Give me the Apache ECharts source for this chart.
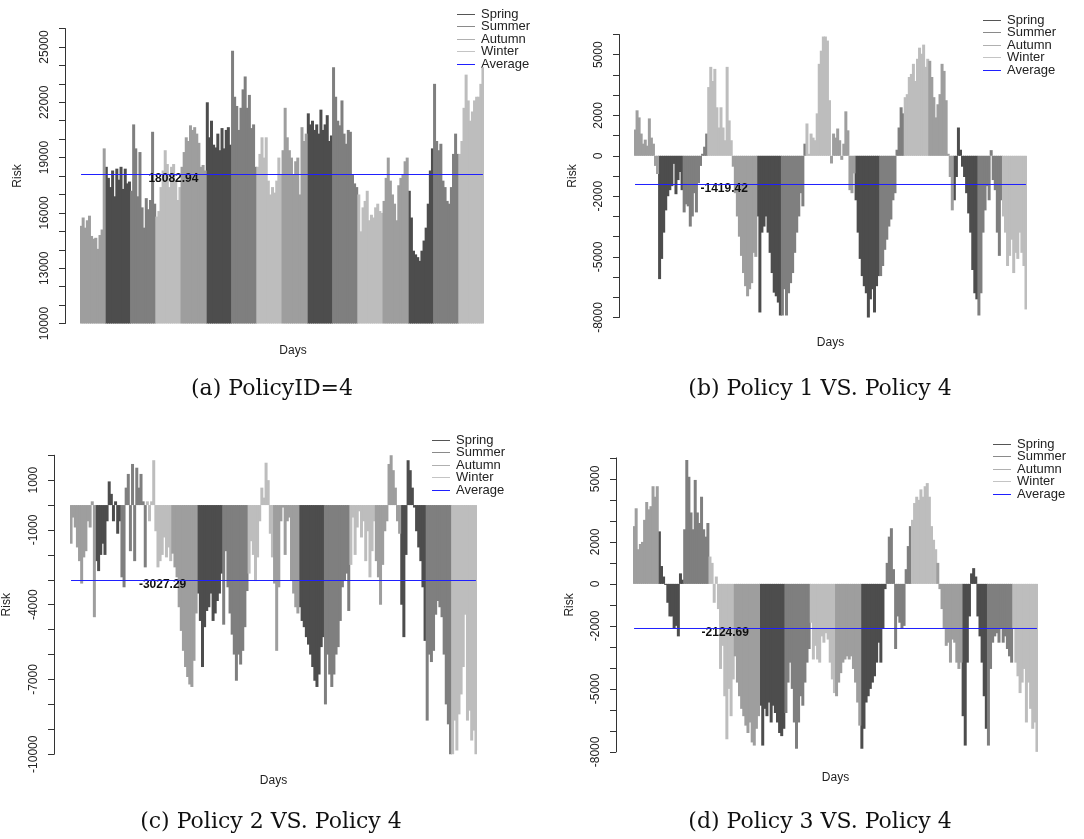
<!DOCTYPE html>
<html>
<head>
<meta charset="utf-8">
<script src="https://cdn.jsdelivr.net/npm/echarts@6/dist/echarts.min.js"></script>
<style>
html, body { margin: 0; background: #fff; }
#chart { width: 1084px; height: 839px; }
</style>
</head>
<body>
<div id="chart"></div>
<script>
// daily risk, 12 samples per season, seasons run Winter, Spring, Summer, Autumn for 4 years
var riskA = [
  15300, 15750, 15200, 15600, 15850, 14750, 14600, 14650, 14050, 14800, 15100, 19500,
  18500, 17900, 17400, 18300, 16900, 18400, 17800, 18500, 17300, 18400, 17600, 17700,
  17200, 20800, 19500, 16900, 19300, 16300, 15200, 16800, 16200, 16700, 20400, 16500,
  15800, 16100, 17400, 18300, 19400, 18650, 17400, 18500, 18650, 17750, 16700, 17400,
  18500, 19300, 20100, 19900, 20750, 20500, 20650, 20300, 19800, 18500, 18600, 18300,
  22000, 20100, 21000, 19700, 19550, 20300, 19400, 20600, 19500, 20500, 20650, 19700,
  24800, 22300, 21800, 20500, 21700, 22700, 23400, 21700, 22400, 20600, 20800, 18500,
  18500, 19200, 20100, 19000, 20100, 17750, 17000, 17400, 17100, 17750, 19000, 18100,
  19400, 21700, 20100, 19400, 19000, 18100, 18800, 19000, 17000, 20650, 19900, 20300,
  21400, 20800, 21000, 20500, 20800, 20300, 21600, 20500, 20800, 21300, 19900, 20200,
  23900, 22300, 21000, 20750, 22100, 20300, 19750, 20500, 20400, 18100, 17600, 17400,
  17000, 15000, 16300, 16650, 17200, 15600, 15900, 15750, 16300, 16500, 16100, 16000,
  16650, 17900, 19000, 17750, 17000, 16500, 15600, 17500, 17900, 18100, 18800, 19000,
  17200, 15750, 13950, 13750, 13600, 13400, 13950, 14500, 15200, 16500, 18300, 19500,
  23000, 19900, 19400, 19750, 17750, 17400, 16650, 16500, 17400, 19200, 20300, 19200,
  19200, 19900, 21700, 23500, 22100, 21000, 21500, 22100, 22300, 22300, 23000, 23900
];
var riskB = [
  1300, 2250, 1900, 1100, 600, 800, 500, 1850, 900, 600, -500, -900,
  -6100, -5100, -3800, -2700, -2000, -1700, -1500, -400, -1900, -1200, -800, -1700,
  -2800, -2400, -2500, -3500, -3000, -1850, -2800, -1350, -500, 100, 450, 1100,
  3400, 4400, 3700, 4300, 2400, 1400, 2400, 1400, 770, 4400, 1750, 770,
  -540, -1850, -3000, -4000, -4950, -5800, -6450, -6950, -6600, -6300, -4800, -5000,
  -3000, -7750, -3800, -3500, -3000, -3800, -4800, -5800, -6770, -6950, -7260, -7900,
  -7900, -6600, -7900, -6800, -6300, -5800, -4800, -3800, -3000, -1850, -2500, 600,
  1600, 100, 1100, 900, 770, 2100, 4550, 5200, 5900, 5900, 5700, 2750,
  -380, 1100, 900, 1350, 770, -200, 600, 2200, 1260, -1700, -1850, -870,
  -2200, -3800, -5100, -5950, -6450, -6800, -8000, -7100, -6600, -7750, -6450, -5950,
  -5950, -5450, -4650, -4150, -3500, -3150, -2200, -1850, 300, 1400, 2400, 2100,
  2900, 3050, 3900, 4050, 4550, 3700, 4800, 5350, 5050, 5500, 4400, 4800,
  4700, 3900, 2900, 1900, 2550, 3050, 4550, 4200, 2750, 100, -1050, -2700,
  -2200, -1050, 1400, 300, -540, -1050, -1850, -2850, -3800, -5650, -6800, -7100,
  -7900, -6800, -3800, -2700, -1500, -2200, 280, -1200, -1700, -3800, -4950, -2200,
  -3000, -3800, -5450, -4950, -4150, -5800, -4800, -5100, -3800, -4800, -5450, -7600
];
var riskC = [
  -1550, -500, -900, -1700, -2250, -3150, -2100, -1850, -650, -900, 150, -4500,
  -2250, -2650, -2000, -1550, -2000, -650, 950, 450, -650, 150, -1150, -650,
  -2900, -3300, 700, 1250, -1850, 1650, -2250, 1500, 700, 1250, 150, -2500,
  150, -650, 150, 1800, -1050, -2500, -2250, -2000, -1300, -2100, -1700, -2250,
  -1950, -2500, -2900, -4100, -5050, -5850, -6500, -6900, -7200, -7300, -6250, -4350,
  -3550, -4650, -6500, -4900, -4250, -4100, -3550, -4650, -4350, -3850, -3550, -2750,
  -4800, -1850, -3300, -4350, -5200, -6000, -7050, -6000, -6400, -5850, -4900, -3450,
  -2750, -1450, -2000, -3050, -2100, -650, 700, 300, 1700, 1000, -1150, -2100,
  -3150, -5850, -3300, -650, -100, -2000, -650, -500, -3050, -3550, -4100, -4350,
  -4100, -4650, -4900, -5300, -5600, -6000, -6500, -7050, -7300, -6800, -5700, -5300,
  -8000, -6000, -6800, -7300, -6800, -6000, -5700, -4650, -3300, -3050, -2750, -4250,
  -2400, -500, -2000, -900, -250, -1300, -650, -2250, -1050, -2900, -1850, -650,
  -2250, -2900, -4000, -2400, -1050, -650, 1650, 2050, 1400, 700, -650, -1150,
  -4000, -5300, -2000, 1800, 1400, 700, -100, -1050, -1700, -2250, -3300, -5450,
  -8650, -6000, -6300, -5850, -4400, -3850, -4100, -4500, -6000, -8000, -8800, -10000,
  -10000, -8650, -9850, -8400, -7600, -6500, -4400, -8650, -8250, -9450, -9050, -10000
];
var riskD = [
  2750, 3600, 1650, 1900, 2000, 3050, 3900, 3550, 3700, 4650, 4150, 4650,
  2500, 850, 350, -50, -900, -1550, -1550, -2150, -2000, -2500, 500, 200,
  2600, 5900, 5100, 3400, 2600, 4950, 3400, 2900, 4150, 2600, 2250, 2900,
  1300, 1000, -900, 350, -1200, -4050, -2950, -5350, -7400, -5000, -6300, -4550,
  -3450, -4700, -5350, -5950, -6300, -6750, -7100, -6600, -7550, -7700, -6900, -6300,
  -5800, -7700, -5950, -6300, -5650, -6600, -5800, -6150, -6600, -7100, -7250, -6900,
  -6150, -4700, -3750, -5000, -6600, -7850, -6600, -5350, -5800, -4700, -3750, -3100,
  -1850, -3600, -2950, -3600, -3750, -2500, -2800, -2350, -2650, -3750, -4550, -5200,
  -5350, -4700, -4250, -3750, -3600, -3450, -3600, -3450, -4050, -4700, -5650, -6750,
  -7850, -6900, -5650, -5350, -5000, -4700, -4400, -3750, -2800, -3750, -2150, -250,
  1000, 2250, 2650, 700, -3100, -1550, -1850, -2150, -2000, 700, 1800, 2750,
  3050, 3850, 4150, 4000, 4500, 4150, 4650, 4800, 4150, 2750, 2100, 1650,
  1000, -250, -1200, -2150, -2950, -2800, -3750, -2650, -2800, -3750, -4050, -3750,
  -6300, -7700, -3750, -1550, 500, 750, 350, -1550, -2500, -3750, -5350, -6900,
  -7700, -4050, -2800, -2500, -2350, -2800, -2150, -2800, -2500, -3100, -3450, -3750,
  -2150, -3750, -4400, -5200, -4700, -4050, -6600, -4700, -5950, -6900, -6600, -8000
];

var averages = [18082.94, -1419.42, -3027.29, -2124.69];
var captions = ['(a) PolicyID=4', '(b) Policy 1 VS. Policy 4', '(c) Policy 2 VS. Policy 4', '(d) Policy 3 VS. Policy 4'];
var tickLabelsA = [10000, 13000, 16000, 19000, 22000, 25000];
var tickLabelsB = [-8000, -5000, -2000, 0, 2000, 5000];
var tickLabelsC = [-10000, -7000, -4000, -1000, 1000];
var tickLabelsD = [-8000, -5000, -2000, 0, 2000, 5000];

var seasonNames = ['Spring', 'Summer', 'Autumn', 'Winter'];
var seasonColors = ['#4d4d4d', '#7f7f7f', '#bdbdbd', '#9e9e9e'];
var keyColors = ['#555555', '#8a8a8a', '#b0b0b0', '#c4c4c4'];
var avgColor = '#1f1fff';
var segSeason = [3, 0, 1, 2]; // Winter, Spring, Summer, Autumn
var perSeason = 12;
var days = riskA.map(function (v, i) { return String(i + 1); });

var panels = [
  { vals: riskA, ticks: tickLabelsA, min: 10000, max: 26000,
    grid: { left: 80, top: 28.53, width: 404, height: 295 }, offset: 15, riskGap: 41,
    daysGap: 21, daysPad: [0, 0, 0, 22], key: [457, 14], cap: [272, 389] },
  { vals: riskB, ticks: tickLabelsB, min: -8000, max: 6000,
    grid: { left: 634, top: 34.52, width: 393, height: 283 }, offset: 15, riskGap: 40,
    daysGap: 19, daysPad: 0, key: [983, 20], cap: [820, 389] },
  { vals: riskC, ticks: tickLabelsC, min: -10000, max: 2000,
    grid: { left: 67, top: 455.24, width: 410, height: 299 }, offset: 16, riskGap: 41,
    daysGap: 20, daysPad: 0, key: [432, 440], cap: [271, 822] },
  { vals: riskD, ticks: tickLabelsD, min: -8000, max: 6000,
    grid: { left: 633, top: 457.88, width: 405, height: 294 }, offset: 17, riskGap: 40,
    daysGap: 20, daysPad: 0, key: [993, 444], cap: [820, 822] }
];

var option = {
  animation: false,
  textStyle: { fontFamily: 'Liberation Sans, Arial, sans-serif' },
  grid: [], xAxis: [], yAxis: [], series: [], graphic: []
};

panels.forEach(function (p, k) {
  option.grid.push(p.grid);
  option.xAxis.push({
    gridIndex: k, type: 'category', data: days,
    axisLine: { show: false }, axisTick: { show: false }, axisLabel: { show: false },
    name: 'Days', nameLocation: 'middle', nameGap: p.daysGap,
    nameTextStyle: { fontSize: 12, color: '#222', padding: p.daysPad }
  });
  option.yAxis.push({
    gridIndex: k, type: 'value', min: p.min, max: p.max, interval: 1000, offset: p.offset,
    splitLine: { show: false },
    axisLine: { show: true, onZero: false, lineStyle: { color: '#333', width: 1 } },
    axisTick: { show: true, length: 6, lineStyle: { color: '#333' } },
    axisLabel: {
      rotate: 90, margin: 14, fontSize: 12, color: '#222',
      formatter: function (v) { return p.ticks.indexOf(v) >= 0 ? String(v) : ''; }
    },
    name: 'Risk', nameLocation: 'middle', nameGap: p.riskGap,
    nameTextStyle: { fontSize: 12, color: '#222' }
  });
  seasonNames.forEach(function (name, s) {
    option.series.push({
      type: 'bar', name: name, id: name + k, xAxisIndex: k, yAxisIndex: k,
      barGap: '-100%', barWidth: 3,
      itemStyle: { color: seasonColors[s] },
      data: p.vals.map(function (v, i) {
        return segSeason[Math.floor(i / perSeason) % 4] === s ? v : '-';
      })
    });
  });
  // average line across the days, with its value written near the left
  option.series.push({
    type: 'line', name: 'Average', id: 'mean' + k, xAxisIndex: k, yAxisIndex: k,
    data: [[days[0], averages[k]], [days[days.length - 1], averages[k]]],
    symbol: 'none', silent: true, z: 5,
    itemStyle: { color: avgColor }, lineStyle: { color: avgColor, width: 1 },
    markPoint: {
      symbol: 'circle', symbolSize: 0, silent: true,
      label: {
        show: true, position: 'right', distance: 0, offset: [0, 4],
        formatter: averages[k].toFixed(2),
        fontSize: 12, fontWeight: 'bold', color: '#111'
      },
      data: [{ coord: [days[32], averages[k]] }]
    }
  });
  // key, drawn like R's legend(): short lines and labels
  seasonNames.concat(['Average']).forEach(function (name, r) {
    var y = p.key[1] + r * 12.5;
    var ly = Math.floor(y) + 0.5;
    option.graphic.push({
      type: 'line', silent: true,
      shape: { x1: p.key[0], y1: ly, x2: p.key[0] + 18, y2: ly },
      style: { stroke: r < 4 ? keyColors[r] : avgColor, lineWidth: 1 }
    });
    option.graphic.push({
      type: 'text', x: p.key[0] + 24, y: y, silent: true,
      style: {
        text: name, font: '13px "Liberation Sans"', fill: '#222',
        textAlign: 'left', textVerticalAlign: 'middle'
      }
    });
  });
  option.graphic.push({
    type: 'text', x: p.cap[0], y: p.cap[1],
    style: {
      text: captions[k], font: '22px "DejaVu Serif"', fill: '#111',
      textAlign: 'center', textVerticalAlign: 'middle'
    }
  });
});

var myChart = echarts.init(document.getElementById('chart'));
option && myChart.setOption(option);
</script>
</body>
</html>
